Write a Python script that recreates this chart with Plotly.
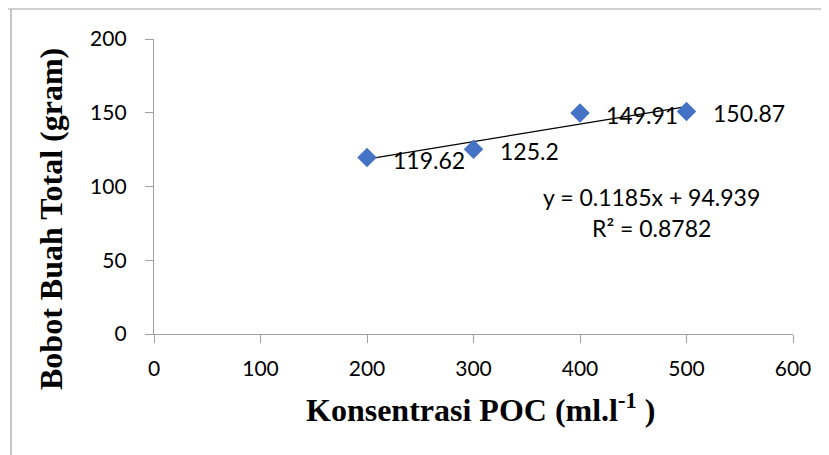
import numpy as np
import plotly.graph_objects as go

x_vals = [200, 300, 400, 500]
y_vals = [119.62, 125.2, 149.91, 150.87]
labels = ["119.62", "125.2", "149.91", "150.87"]
x_ticks = [0, 100, 200, 300, 400, 500, 600]
y_ticks = [0, 50, 100, 150, 200]
eq_text = "y = 0.1185x + 94.939"
r2_text = "R² = 0.8782"
x_title = "<b>Konsentrasi POC (ml.l<sup>-1</sup> )</b>"
y_title = "<b>Bobot Buah Total (gram)</b>"

slope, intercept = np.polyfit(x_vals, y_vals, 1)
trend_x = [min(x_vals), max(x_vals)]
trend_y = [slope * v + intercept for v in trend_x]

fig = go.Figure()
fig.add_trace(go.Scatter(
    x=trend_x, y=trend_y, mode="lines",
    line=dict(color="black", width=1.3), hoverinfo="skip", showlegend=False))
fig.add_trace(go.Scatter(
    x=x_vals, y=y_vals, mode="markers",
    marker=dict(symbol="diamond", size=15, color="#4472C4"),
    showlegend=False))

label_font = dict(family="Lato, Open Sans, sans-serif", size=23, color="black")
for xv, yv, t in zip(x_vals, y_vals, labels):
    fig.add_annotation(x=xv, y=yv, text=t, showarrow=False, xanchor="left",
                       yanchor="middle", xshift=24, yshift=-2, font=label_font)

fig.add_annotation(x=467.6, y=92.6, text=eq_text, showarrow=False, xanchor="center",
                   yanchor="middle", font=label_font)
fig.add_annotation(x=466.7, y=71.6, text=r2_text, showarrow=False, xanchor="center",
                   yanchor="middle", font=label_font)

OFF = 8  # page body offset
L, R, T, B = 146, 44, 31, 129
pw = 829 - L - R
ph = 455 - T - B
def px(v):
    return (v - OFF - L) / pw
def py(v):
    return (455 - B - (v - OFF)) / ph

title_font = dict(family="Liberation Serif", size=32, color="black")
fig.add_annotation(xref="paper", yref="paper", x=px(481), y=py(408), text=x_title,
                   showarrow=False, xanchor="center", yanchor="middle", font=title_font)
fig.add_annotation(xref="paper", yref="paper", x=px(51), y=py(219), text=y_title,
                   showarrow=False, xanchor="center", yanchor="middle", textangle=-90,
                   font=title_font)

border = dict(color="#A0A0A0", width=1.2)
fig.add_shape(type="line", xref="paper", yref="paper",
              x0=px(7), x1=px(845), y0=py(9), y1=py(9), line=border)
fig.add_shape(type="line", xref="paper", yref="paper",
              x0=px(11), x1=px(11), y0=py(9), y1=py(470), line=border)

tick_font = dict(family="Lato, Open Sans, sans-serif", size=21, color="black")
fig.update_xaxes(range=[0, 600], tickvals=x_ticks, showgrid=False, zeroline=False,
                 showline=True, linecolor="#A0A0A0", linewidth=1.3,
                 ticks="outside", ticklen=8, tickcolor="#A0A0A0",
                 tickfont=tick_font, ticklabelstandoff=8)
fig.update_yaxes(range=[0, 200], tickvals=y_ticks, showgrid=False, zeroline=False,
                 showline=True, linecolor="#A0A0A0", linewidth=1.3,
                 ticks="outside", ticklen=8, tickcolor="#A0A0A0",
                 tickfont=tick_font, ticklabelstandoff=14)
fig.update_layout(width=829, height=455, margin=dict(l=L, r=R, t=T, b=B),
                  plot_bgcolor="white", paper_bgcolor="white")
fig.write_html("out.html")
